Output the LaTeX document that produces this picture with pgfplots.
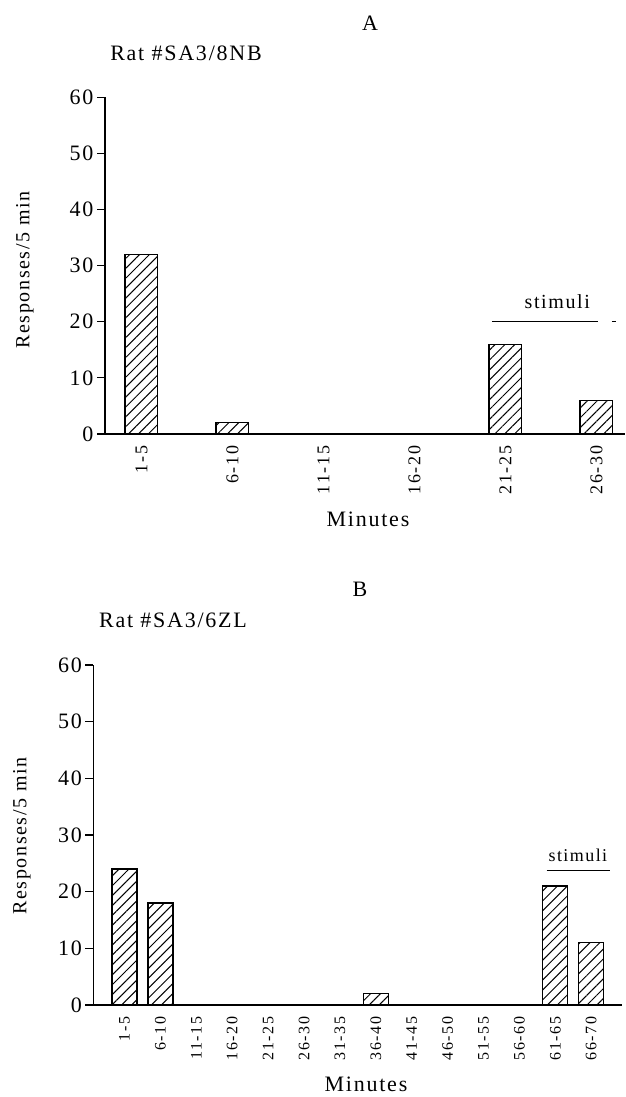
\documentclass[border=0pt]{standalone}
\usepackage{pgfplots}
\pgfplotsset{compat=1.18}
\usetikzlibrary{patterns.meta}
\usepackage{fontspec}
\setmainfont{Liberation Serif}[LetterSpace=8]
\newfontfamily\tickfont{Liberation Serif}[LetterSpace=10]

\pgfplotsset{
  ratstyle/.style={
    anchor=south west, scale only axis, clip=false,
    ymin=0, ymax=60,
    axis lines=left, axis line style={-, line width=1.4pt},
    ytick={0,10,...,60}, ytick pos=left,
    x tick style={draw=none}, y tick style={line width=1.2pt, black},
    major tick length=8pt, tick align=outside,
    yticklabel style={font=\fontsize{22}{24}\selectfont},
    xticklabel style={rotate=90, anchor=east},
    /pgf/number format/assume math mode=true,
  },
  hatchbar/.style={ybar, draw=black, line width=1.4pt,
    pattern={Lines[angle=45,distance=7pt,line width=1pt]}},
}

\begin{document}
\begin{tikzpicture}
\path[use as bounding box] (0pt,0pt) rectangle (626pt,-1097pt);

% ---------- Panel A ----------
\node[font=\fontsize{22}{24}\selectfont] at (370pt,-23pt) {A};
\node[font=\fontsize{22}{24}\selectfont] at (186pt,-53pt) {Rat \#SA3/8NB};
\node[rotate=90, font=\fontsize{20}{22}\selectfont] at (25pt,-270pt) {Responses/5 min};
\node[font=\fontsize{22}{24}\selectfont] at (368pt,-519pt) {Minutes};

\begin{axis}[ratstyle,
  at={(105pt,-434pt)}, width=519.6pt, height=336.7pt,
  xmin=-0.4, xmax=5.31,
  xtick={0,...,5}, xticklabels={1-5,6-10,11-15,16-20,21-25,26-30},
  xticklabel style={font=\tickfont\fontsize{18}{20}\selectfont},
]
\addplot[hatchbar, bar width=32.5pt] coordinates {(0,32) (1,2) (2,0) (3,0) (4,16) (5,6)};
\draw[line width=1pt] (axis cs:3.85,20) -- (axis cs:5.02,20);
\draw[line width=1pt] (axis cs:5.17,20) -- (axis cs:5.21,20);
\node[font=\fontsize{20}{22}\selectfont] at (axis cs:4.57,23.5) {stimuli};
\end{axis}

% ---------- Panel B ----------
\node[font=\fontsize{22}{24}\selectfont] at (360pt,-589pt) {B};
\node[font=\fontsize{22}{24}\selectfont] at (173pt,-620pt) {Rat \#SA3/6ZL};
\node[rotate=90, font=\fontsize{20}{22}\selectfont] at (22pt,-836pt) {Responses/5 min};
\node[font=\fontsize{22}{24}\selectfont] at (366pt,-1084pt) {Minutes};

\begin{axis}[ratstyle,
  at={(93.3pt,-1005pt)}, width=528.4pt, height=340pt,
  xmin=-0.87, xmax=13.85,
  xtick={0,...,13},
  xticklabels={1-5,6-10,11-15,16-20,21-25,26-30,31-35,36-40,41-45,46-50,51-55,56-60,61-65,66-70},
  xticklabel style={font=\tickfont\fontsize{16}{18}\selectfont},
]
\addplot[hatchbar, bar width=25pt] coordinates {(0,24) (1,18) (2,0) (3,0) (4,0) (5,0) (6,0) (7,2) (8,0) (9,0) (10,0) (11,0) (12,21) (13,11)};
\draw[line width=1pt] (axis cs:11.76,23.8) -- (axis cs:13.52,23.8);
\node[font=\fontsize{18}{20}\selectfont] at (axis cs:12.63,26.5) {stimuli};
\end{axis}
\end{tikzpicture}
\end{document}
